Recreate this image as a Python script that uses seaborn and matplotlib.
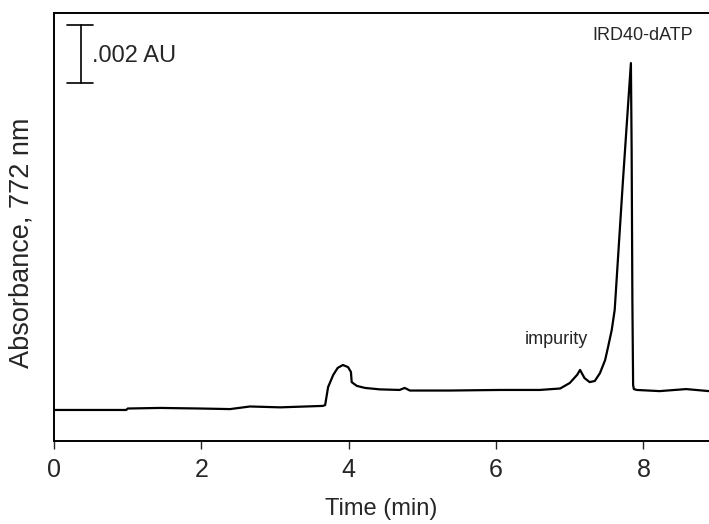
import seaborn as sns
import matplotlib.pyplot as plt
import pandas as pd

# chromatogram trace: time (min) vs absorbance (AU)
time_min = [0.00, 0.98, 1.00, 1.44, 1.98, 2.39, 2.66, 3.07, 3.65, 3.68,
            3.72, 3.79, 3.85, 3.92, 3.99, 4.03, 4.04, 4.11, 4.22, 4.42,
            4.69, 4.76, 4.83, 5.37, 6.05, 6.59, 6.87, 7.00, 7.10, 7.14,
            7.20, 7.27, 7.34, 7.41, 7.48, 7.52, 7.57, 7.61, 7.72, 7.83,
            7.84, 7.85, 7.86, 7.87, 7.91, 8.22, 8.58, 8.89]
absorb_au = [0.00107, 0.00107, 0.00112, 0.00114, 0.00112, 0.00110, 0.00119, 0.00116, 0.00121, 0.00124,
             0.00186, 0.00228, 0.00252, 0.00262, 0.00255, 0.00238, 0.00203, 0.00190, 0.00183, 0.00178,
             0.00176, 0.00183, 0.00174, 0.00174, 0.00176, 0.00176, 0.00181, 0.00200, 0.00228, 0.00245,
             0.00217, 0.00203, 0.00207, 0.00234, 0.00279, 0.00324, 0.00383, 0.00452, 0.00890, 0.01303,
             0.01003, 0.00486, 0.00193, 0.00179, 0.00176, 0.00172, 0.00179, 0.00172]

x_ticks = [0, 2, 4, 6, 8]

df = pd.DataFrame({"time": time_min, "abs": absorb_au})

sns.set_style("ticks")
plt.rcParams['font.family'] = ['Liberation Sans', 'DejaVu Sans']

fig = plt.figure(figsize=(7.09, 5.24), dpi=100)
ax = fig.add_axes([0.0762, 0.1584, 0.9238, 0.8168])

sns.lineplot(data=df, x="time", y="abs", color="black", linewidth=1.6, ax=ax)

ax.set_xlim(0, 8.89)
ax.set_ylim(0, 0.014757)
ax.set_xticks(x_ticks)
ax.set_yticks([])
ax.tick_params(axis="x", direction="out", length=6, width=1, labelsize=18, pad=6)
for side in ["left", "bottom", "top"]:
    ax.spines[side].set_linewidth(1.4)
    ax.spines[side].set_color("black")
ax.spines["right"].set_visible(False)

ax.set_xlabel("Time (min)", fontsize=17, labelpad=12)
ax.set_ylabel("Absorbance, 772 nm", fontsize=19.5)
ax.yaxis.set_label_coords(-0.03, 0.463)

# scale bar: 0.002 AU
ax.plot([0.366, 0.366], [0.01234, 0.01434], color="black", lw=1.2)
ax.plot([0.176, 0.529], [0.01234, 0.01234], color="black", lw=1.2)
ax.plot([0.176, 0.529], [0.01434, 0.01434], color="black", lw=1.2)
ax.text(0.51, 0.01307, ".002 AU", fontsize=17, va="baseline")

ax.text(7.99, 0.01383, "IRD40-dATP", fontsize=13, ha="center", va="baseline")
ax.text(6.825, 0.00334, "impurity", fontsize=13, ha="center", va="baseline")

plt.savefig("out.png", dpi=100)
